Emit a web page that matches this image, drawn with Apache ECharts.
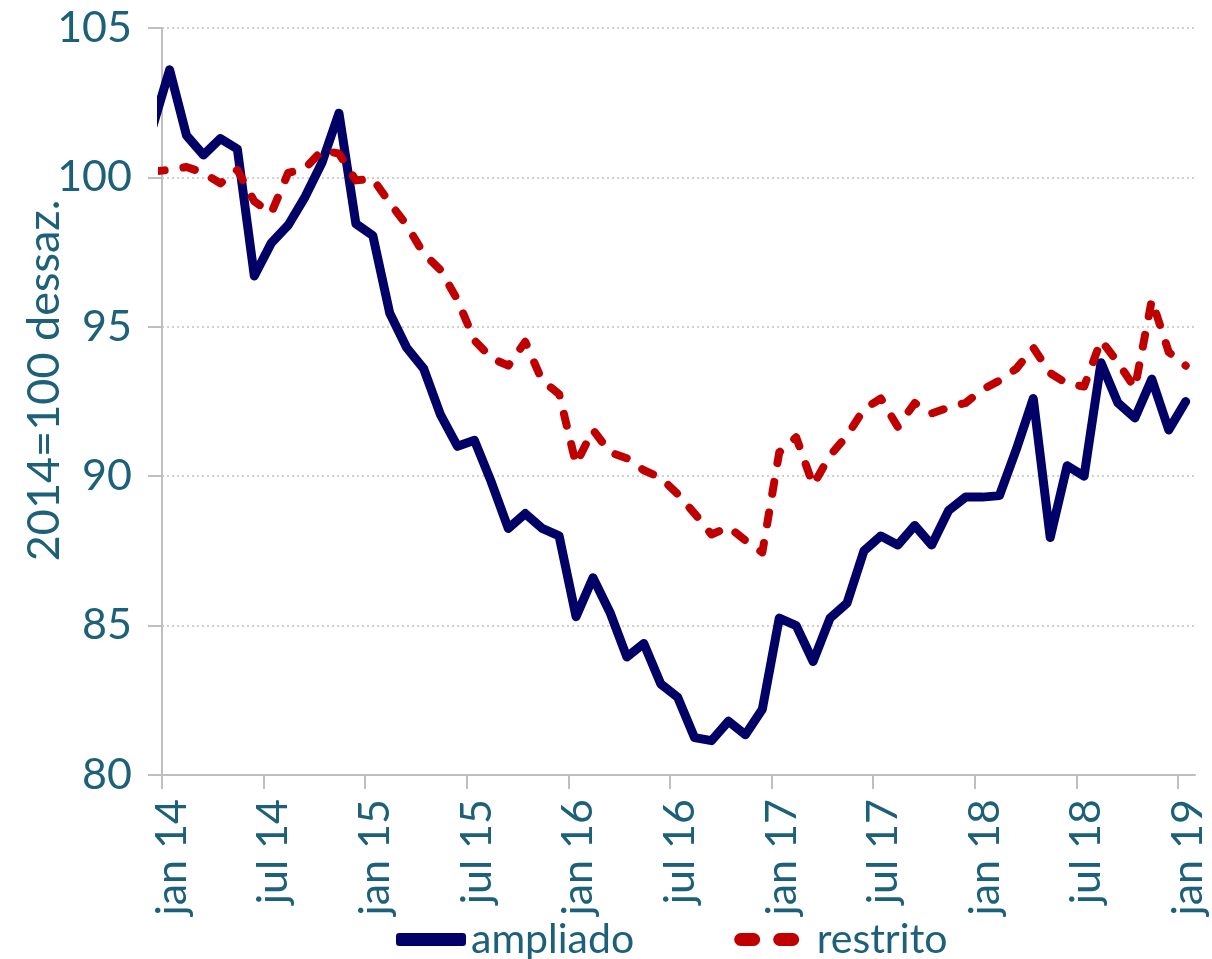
<!DOCTYPE html>
<html>
<head>
<meta charset="utf-8">
<script src="https://cdn.jsdelivr.net/npm/echarts@6/dist/echarts.min.js"></script>
<style>
  html, body { margin: 0; padding: 0; background: #ffffff; }
  #chart { width: 1212px; height: 959px; }
</style>
</head>
<body>
<div id="chart"></div>
<script>
  // monthly index, dez 13 .. jan 19 (one point per month, dated mid-month)
  const firstMonth = -1;

  // 2014=100, dessazonalizado
  const ampliado = [
    101.7,
    103.6, 101.4, 100.75, 101.3, 100.95, 96.7, 97.8, 98.4, 99.35, 100.5, 102.15, 98.45,
    98.05, 95.45, 94.3, 93.6, 92.05, 91.0, 91.2, 89.8, 88.25, 88.75, 88.25, 88.0,
    85.3, 86.6, 85.45, 83.95, 84.4, 83.05, 82.6, 81.25, 81.15, 81.8, 81.35, 82.2,
    85.25, 85.0, 83.8, 85.25, 85.75, 87.5, 88.0, 87.7, 88.35, 87.7, 88.85, 89.3,
    89.3, 89.35, 90.9, 92.6, 87.95, 90.35, 90.0, 93.8, 92.45, 91.95, 93.25, 91.55,
    92.5
  ];

  const restrito = [
    100.2,
    100.25, 100.35, 100.15, 99.8, 100.25, 99.2, 98.8, 100.15, 100.3, 100.9, 100.8, 99.9,
    99.95, 99.15, 98.4, 97.45, 96.9, 95.9, 94.55, 93.95, 93.7, 94.5, 93.2, 92.75,
    90.4, 91.55, 90.8, 90.6, 90.2, 89.95, 89.4, 88.75, 88.05, 88.3, 87.85, 87.45,
    90.8, 91.3, 89.7, 90.7, 91.35, 92.25, 92.6, 91.65, 92.45, 92.1, 92.3, 92.45,
    92.9, 93.2, 93.6, 94.3, 93.45, 93.1, 93.0, 94.55, 93.8, 92.95, 95.9, 94.15,
    93.7
  ];

  // x tick labels, every 6 months from jan 14
  const tickLabels = ['jan 14', 'jul 14', 'jan 15', 'jul 15', 'jan 16', 'jul 16',
    'jan 17', 'jul 17', 'jan 18', 'jul 18', 'jan 19'];
  const tickValues = tickLabels.map((t, i) => i * 6);

  const txt = '#1d6079';
  const font = 'Lato';

  const toPairs = arr => arr.map((v, i) => [firstMonth + i + 0.45, v]);

  const chart = echarts.init(document.getElementById('chart'));
  chart.setOption({
    animation: false,
    grid: { left: 162, right: 17, top: 28, bottom: 184, containLabel: false, outerBoundsMode: 'none' },
    legend: {
      bottom: -6,
      left: 391,
      itemWidth: 70,
      itemHeight: 13,
      itemGap: 100,
      textStyle: { color: txt, fontFamily: font, fontSize: 41 },
      data: [
        { name: 'ampliado', icon: 'roundRect' },
        {
          name: 'restrito',
          icon: 'path://M6,0H18A6,6 0 0 1 18,12H6A6,6 0 0 1 6,0Z M42,0H54A6,6 0 0 1 54,12H42A6,6 0 0 1 42,0Z',
          textStyle: { padding: [0, 0, 0, 10] }
        }
      ]
    },
    xAxis: {
      type: 'value',
      min: 0,
      max: 61,
      interval: 6,
      axisLine: { lineStyle: { color: '#bfbfbf', width: 2 } },
      axisTick: { show: true, length: 14, customValues: tickValues, lineStyle: { color: '#bfbfbf', width: 2 } },
      axisLabel: {
        customValues: tickValues,
        rotate: 90,
        margin: 24,
        verticalAlign: 'top',
        lineHeight: 20,
        color: txt,
        fontFamily: font,
        fontSize: 43,
        formatter: v => tickLabels[Math.round(v / 6)]
      },
      splitLine: { show: false }
    },
    yAxis: {
      type: 'value',
      min: 80,
      max: 105,
      interval: 5,
      name: '2014=100 dessaz.',
      nameLocation: 'middle',
      nameRotate: 90,
      nameGap: 95,
      nameMoveOverlap: false,
      nameTextStyle: { color: txt, fontFamily: font, fontSize: 45, padding: [0, 0, 0, 42] },
      axisLine: { show: true, lineStyle: { color: '#bfbfbf', width: 2 } },
      axisTick: { show: true, length: 14, lineStyle: { color: '#bfbfbf', width: 2 } },
      axisLabel: { margin: 30, color: txt, fontFamily: font, fontSize: 43 },
      splitLine: { lineStyle: { color: '#d0d0d0', width: 2, type: [2, 3] } }
    },
    series: [
      {
        name: 'ampliado',
        type: 'line',
        data: toPairs(ampliado),
        symbol: 'none',
        clip: true,
        itemStyle: { color: '#000066' },
        lineStyle: { color: '#000066', width: 9, cap: 'round', join: 'round' }
      },
      {
        name: 'restrito',
        type: 'line',
        data: toPairs(restrito),
        symbol: 'none',
        clip: true,
        itemStyle: { color: '#c00000' },
        lineStyle: { color: '#c00000', width: 8, type: [12, 19], cap: 'round', join: 'round' }
      }
    ]
  });
</script>
</body>
</html>
